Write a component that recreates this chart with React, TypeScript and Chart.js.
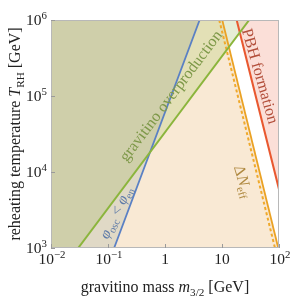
import React, { useEffect, useRef } from 'react';
import { Chart, registerables } from 'chart.js';

Chart.register(...registerables);

// ---- axes ----
const X_MIN = 0.01;
const X_MAX = 100;
const Y_MIN = 1e3;
const Y_MAX = 1e6;
const xTickValues = [0.01, 0.1, 1, 10, 100];
const xTickBase = ['10', '10', '1', '10', '10'];
const xTickExp = ['−2', '−1', '', '', '2'];
const yTickValues = [1e3, 1e4, 1e5, 1e6];
const yTickBase = ['10', '10', '10', '10'];
const yTickExp = ['3', '4', '5', '6'];

// ---- boundary lines: gravitino mass m [GeV] vs reheating temperature T [GeV] ----
const greenM = [0.03, 30];
const greenT = [1e3, 1e6];
const blueM = [0.128, 4.05];
const blueT = [1e3, 1e6];
const neffSolidM = [10.1, 97];
const neffSolidT = [1e6, 1e3];
const neffDashedM = [8.95, 85];
const neffDashedT = [1e6, 1e3];
const pbhM = [18.1, 100];
const pbhT = [1e6, 5930];

// ---- region outlines ----
const allowedM = [0.01, 10.1, 97];        // below -> beige
const allowedT = [1e6, 1e6, 1e3];
const overprodM = [0.01, 30];             // above -> green
const overprodT = [333, 1e6];
const oscM = [0.01, 4.05];                // above -> phi_osc < phi_en
const oscT = [6.1, 1e6];
const bothM = [0.01, 0.546, 4.05];        // above -> both
const bothT = [333, 18200, 1e6];
const overNeffM = [10.1, 13.3, 30];       // above -> overproduction beyond dNeff
const overNeffT = [1e6, 4.4e5, 1e6];
const overPbhM = [18.1, 20.5, 30];        // above -> overproduction inside PBH
const overPbhT = [1e6, 6.85e5, 1e6];
const pbhRegionM = [18.1, 100];           // above -> PBH
const pbhRegionT = [1e6, 5930];

const pts = (m: number[], t: number[]) => m.map((v, i) => ({ x: v, y: t[i] }));

const FONT = "'Liberation Serif', 'Times New Roman', serif";

type Seg = { t: string; it?: boolean; sub?: boolean; sup?: boolean };

const annotations: { segs: Seg[]; m: number; T: number; angle: number; color: string; size: number }[] = [
  { segs: [{ t: 'gravitino overproduction' }], m: 1.27, T: 1.0e5, angle: -53, color: '#7d9848', size: 16 },
  { segs: [{ t: 'PBH formation' }], m: 46.4, T: 1.83e5, angle: 74, color: '#b24e3a', size: 16 },
  { segs: [{ t: 'Δ' }, { t: 'N', it: true }, { t: 'eff', sub: true }], m: 23.5, T: 7500, angle: 73, color: '#b08a42', size: 16 },
  {
    segs: [{ t: 'φ', it: true }, { t: 'osc', sub: true }, { t: ' < ' }, { t: 'φ', it: true }, { t: 'en', sub: true }],
    m: 0.138, T: 2930, angle: -64, color: '#5d7aa8', size: 15,
  },
];

const xTitle: Seg[] = [{ t: 'gravitino mass ' }, { t: 'm', it: true }, { t: '3/2', sub: true }, { t: ' [GeV]' }];
const yTitle: Seg[] = [{ t: 'reheating temperature ' }, { t: 'T', it: true }, { t: 'RH', sub: true }, { t: ' [GeV]' }];

function segFont(s: Seg, size: number) {
  const sz = s.sub || s.sup ? size * 0.7 : size;
  return `${s.it ? 'italic ' : ''}${sz}px ${FONT}`;
}
function richWidth(ctx: CanvasRenderingContext2D, segs: Seg[], size: number) {
  let w = 0;
  for (const s of segs) {
    ctx.font = segFont(s, size);
    w += ctx.measureText(s.t).width;
  }
  return w;
}
function drawRich(ctx: CanvasRenderingContext2D, segs: Seg[], size: number, x: number, baseline: number, color: string) {
  let cx = x;
  ctx.fillStyle = color;
  ctx.textBaseline = 'alphabetic';
  ctx.textAlign = 'left';
  for (const s of segs) {
    ctx.font = segFont(s, size);
    const dy = s.sub ? size * 0.22 : s.sup ? -size * 0.36 : 0;
    ctx.fillText(s.t, cx, baseline + dy);
    cx += ctx.measureText(s.t).width;
  }
}

const decor = {
  id: 'decor',
  afterDatasetsDraw(chart: any) {
    const ctx: CanvasRenderingContext2D = chart.ctx;
    const xs = chart.scales.x;
    const ys = chart.scales.y;
    const a = chart.chartArea;

    // annotations
    for (const an of annotations) {
      const px = xs.getPixelForValue(an.m);
      const py = ys.getPixelForValue(an.T);
      ctx.save();
      ctx.translate(px, py);
      ctx.rotate((an.angle * Math.PI) / 180);
      const w = richWidth(ctx, an.segs, an.size);
      drawRich(ctx, an.segs, an.size, -w / 2, an.size * 0.3, an.color);
      ctx.restore();
    }

    // frame
    ctx.save();
    ctx.strokeStyle = '#b8b8b8';
    ctx.lineWidth = 1;
    ctx.strokeRect(a.left + 0.5, a.top + 0.5, a.right - a.left - 1, a.bottom - a.top - 1);

    // ticks
    ctx.strokeStyle = '#9a9a9a';
    ctx.beginPath();
    xTickValues.forEach((v) => {
      const px = Math.round(xs.getPixelForValue(v)) + 0.5;
      ctx.moveTo(px, a.bottom);
      ctx.lineTo(px, a.bottom - 4);
    });
    yTickValues.forEach((v) => {
      const py = Math.round(ys.getPixelForValue(v)) + 0.5;
      ctx.moveTo(a.left, py);
      ctx.lineTo(a.left + 4, py);
    });
    ctx.stroke();

    // tick labels
    const ts = 15.5;
    xTickValues.forEach((v, i) => {
      const segs: Seg[] = [{ t: xTickBase[i] }];
      if (xTickExp[i]) segs.push({ t: xTickExp[i], sup: true });
      const w = richWidth(ctx, segs, ts);
      const bw = richWidth(ctx, [{ t: xTickBase[i] }], ts);
      const px = xs.getPixelForValue(v);
      const start = xTickExp[i] ? px - bw / 2 - (w - bw) / 2 + 1 : px - w / 2;
      drawRich(ctx, segs, ts, start, a.bottom + 15.5, '#222');
    });
    yTickValues.forEach((v, i) => {
      const segs: Seg[] = [{ t: yTickBase[i] }, { t: yTickExp[i], sup: true }];
      const w = richWidth(ctx, segs, ts);
      const py = ys.getPixelForValue(v);
      drawRich(ctx, segs, ts, a.left - 4 - w, py + 4.5, '#222');
    });

    // axis titles
    const tsz = 16;
    const xw = richWidth(ctx, xTitle, tsz);
    drawRich(ctx, xTitle, tsz, (a.left + a.right) / 2 - xw / 2, 292, '#222');
    ctx.translate(20, (a.top + a.bottom) / 2);
    ctx.rotate(-Math.PI / 2);
    const yw = richWidth(ctx, yTitle, tsz);
    drawRich(ctx, yTitle, tsz, -yw / 2, 0, '#222');
    ctx.restore();
  },
};

function fillSet(data: { x: number; y: number }[], color: string, fill: string) {
  return {
    data,
    borderWidth: 0,
    pointRadius: 0,
    pointHoverRadius: 0,
    backgroundColor: color,
    fill,
    tension: 0,
    clip: 0,
  };
}
function lineSet(data: { x: number; y: number }[], color: string, width: number, dash: number[] = []) {
  return {
    data,
    borderColor: color,
    borderWidth: width,
    borderDash: dash,
    pointRadius: 0,
    pointHoverRadius: 0,
    fill: false,
    tension: 0,
    clip: 0,
  };
}

export default function App() {
  const ref = useRef<HTMLCanvasElement>(null);
  useEffect(() => {
    if (!ref.current) return;
    const chart = new Chart(ref.current, {
      type: 'line',
      data: {
        datasets: [
          lineSet(pts(greenM, greenT), '#8bb53c', 2),
          lineSet(pts(blueM, blueT), '#5a80c4', 1.8),
          lineSet(pts(neffDashedM, neffDashedT), '#efa92c', 2, [3, 2.5]),
          lineSet(pts(neffSolidM, neffSolidT), '#eba224', 1.8),
          lineSet(pts(pbhM, pbhT), '#e9582f', 2),
          fillSet(pts(bothM, bothT), '#cfcfaa', 'end'),
          fillSet(pts(overPbhM, overPbhT), '#eadcc3', 'end'),
          fillSet(pts(overNeffM, overNeffT), '#e6edd6', 'end'),
          fillSet(pts(overprodM, overprodT), '#e3e0b6', 'end'),
          fillSet(pts(oscM, oscT), '#e0d9c6', 'end'),
          fillSet(pts(pbhRegionM, pbhRegionT), '#fbdfd8', 'end'),
          fillSet(pts(allowedM, allowedT), '#f9e9d4', 'start'),
        ] as any,
      },
      options: {
        responsive: false,
        animation: false,
        events: [],
        layout: { padding: { top: 20, right: 21, left: 0, bottom: 0 } },
        plugins: {
          legend: { display: false },
          tooltip: { enabled: false },
          filler: { drawTime: 'beforeDatasetsDraw' } as any,
        },
        scales: {
          x: {
            type: 'logarithmic',
            min: X_MIN,
            max: X_MAX,
            afterBuildTicks: (s: any) => {
              s.ticks = xTickValues.map((v) => ({ value: v, major: true }));
            },
            afterFit: (s: any) => {
              s.height = 50;
            },
            ticks: { display: false },
            grid: { display: false },
            border: { display: false },
          },
          y: {
            type: 'logarithmic',
            min: Y_MIN,
            max: Y_MAX,
            afterBuildTicks: (s: any) => {
              s.ticks = yTickValues.map((v) => ({ value: v, major: true }));
            },
            afterFit: (s: any) => {
              s.width = 51;
            },
            ticks: { display: false },
            grid: { display: false },
            border: { display: false },
          },
        },
      },
      plugins: [decor],
    });
    return () => chart.destroy();
  }, []);
  return (
    <div style={{ position: 'absolute', left: 0, top: 0, width: 300, height: 298, background: '#fff' }}>
      <canvas ref={ref} width={300} height={298} style={{ display: 'block' }} />
    </div>
  );
}
